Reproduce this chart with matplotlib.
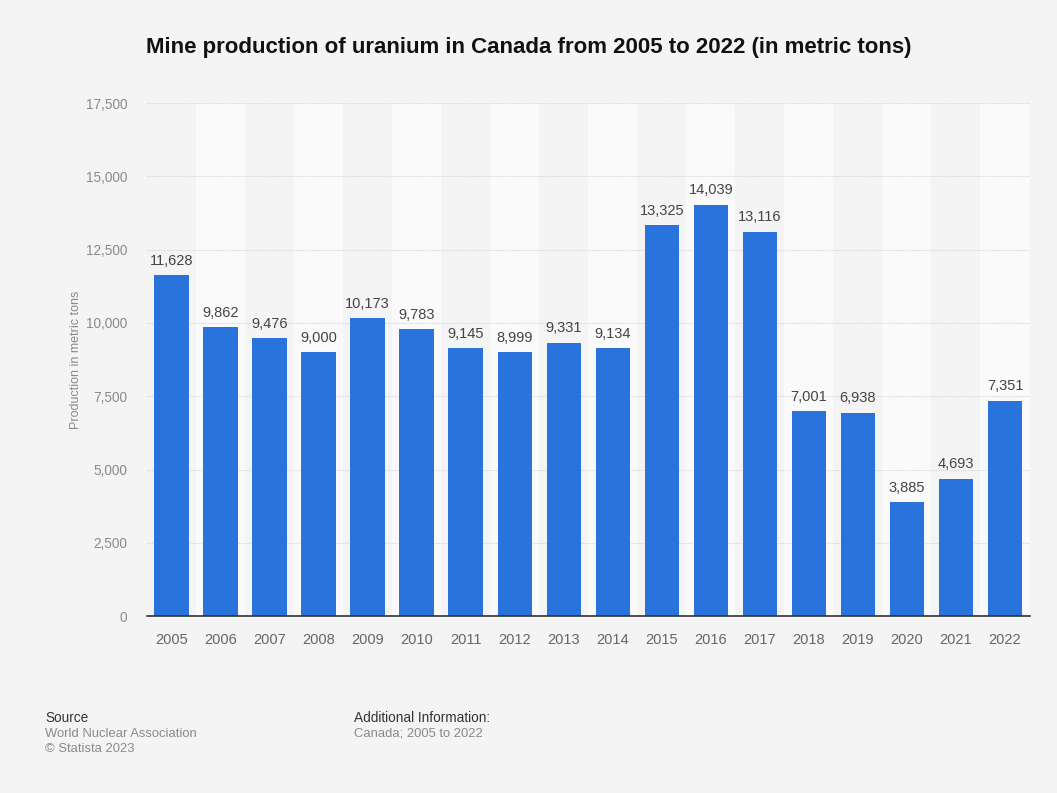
import matplotlib
matplotlib.use('Agg')
import matplotlib.pyplot as plt
from matplotlib.ticker import FuncFormatter

years = [str(y) for y in range(2005, 2023)]
production = [11628, 9862, 9476, 9000, 10173, 9783, 9145, 8999, 9331, 9134,
              13325, 14039, 13116, 7001, 6938, 3885, 4693, 7351]
y_ticks = [0, 2500, 5000, 7500, 10000, 12500, 15000, 17500]

BG = '#F4F4F4'
BAND = '#FAFAFA'
BAR = '#2873DC'
TXT = '#333333'
GREY = '#8A8A8A'

plt.rcParams['font.family'] = ['Liberation Sans', 'DejaVu Sans']

fig = plt.figure(figsize=(10.57, 7.93), dpi=100)
fig.patch.set_facecolor(BG)
ax = fig.add_axes([0.139, 0.223, 0.835, 0.647])
ax.set_facecolor(BG)

x = list(range(len(years)))
for i in x:
    if i % 2 == 1:
        ax.axvspan(i - 0.5, i + 0.5, color=BAND, zorder=0, lw=0)

bars = ax.bar(x, production, width=0.7, color=BAR, zorder=3)
for xi, v in zip(x, production):
    ax.text(xi, v + 250, f'{v:,}', ha='center', va='bottom', fontsize=10.5,
            color='#444444', zorder=4)

ax.set_xlim(-0.5, len(years) - 0.5)
ax.set_ylim(0, 17500)
ax.set_yticks(y_ticks)
ax.yaxis.set_major_formatter(FuncFormatter(lambda v, p: f'{int(v):,}'))
ax.set_xticks(x)
ax.set_xticklabels(years)
ax.grid(axis='y', color='#D6D6D6', linestyle=(0, (1, 1)), linewidth=0.8, zorder=1)
for s in ['top', 'right', 'left']:
    ax.spines[s].set_visible(False)
ax.spines['bottom'].set_color('#333333')
ax.spines['bottom'].set_linewidth(1.2)
ax.spines['bottom'].set_zorder(5)
ax.tick_params(axis='both', length=0)
ax.tick_params(axis='y', labelsize=9.8, labelcolor=GREY, pad=14)
ax.tick_params(axis='x', labelsize=10.5, labelcolor='#666666', pad=12)
ax.set_ylabel('Production in metric tons', fontsize=9, color=GREY, labelpad=3)

fig.text(0.5, 0.94, 'Mine production of uranium in Canada from 2005 to 2022 (in metric tons)',
         ha='center', va='center', fontsize=16, fontweight='bold', color='#111111')

fig.text(0.043, 0.095, 'Source', fontsize=9.8, color=TXT, va='center')
fig.text(0.043, 0.075, 'World Nuclear Association', fontsize=9.4, color=GREY, va='center')
fig.text(0.043, 0.056, '\u00a9 Statista 2023', fontsize=9.4, color=GREY, va='center')
fig.text(0.335, 0.095, 'Additional Information:', fontsize=9.8, color=TXT, va='center')
fig.text(0.335, 0.075, 'Canada; 2005 to 2022', fontsize=9.4, color=GREY, va='center')

fig.savefig('out.png', dpi=100, facecolor=BG)
